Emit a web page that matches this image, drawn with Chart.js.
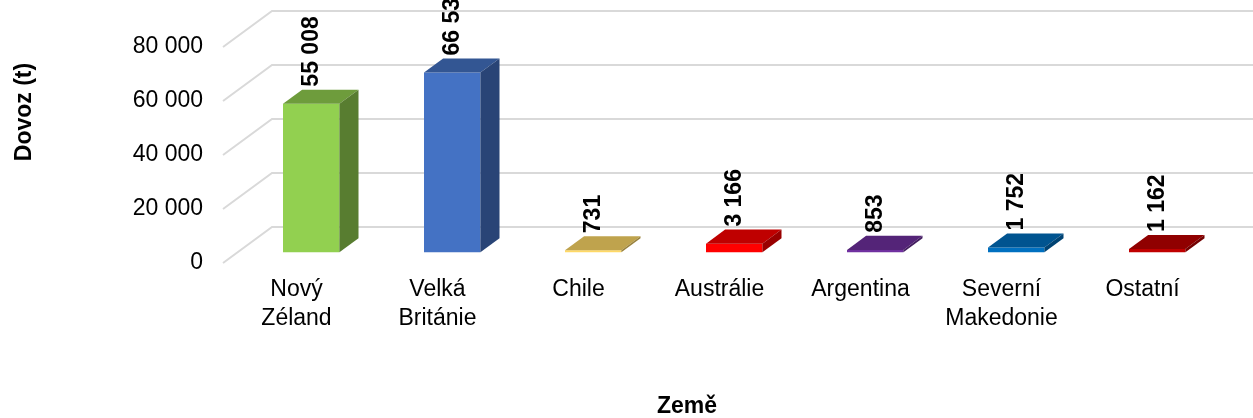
<!DOCTYPE html>
<html><head><meta charset="utf-8">
<script src="https://cdn.jsdelivr.net/npm/chart.js@4"></script>
<style>html,body{margin:0;padding:0;background:#fff}</style>
</head><body>
<canvas id="c" width="1253" height="418"></canvas>
<script>
const categories = [['Nový','Zéland'],['Velká','Británie'],'Chile','Austrálie','Argentina',['Severní','Makedonie'],'Ostatní'];
const importValues = [55008, 66533, 731, 3166, 853, 1752, 1162];
const barColors = ['#92D050','#4472C4','#FFD966','#FF0000','#7030A0','#0070C0','#C00000'];
const yTickValues = [0, 20000, 40000, 60000, 80000];
const yTitle = 'Dovoz (t)';
const xTitle = 'Země';

const FONT = '"Liberation Sans", Arial, Helvetica, sans-serif';
const WALL_DX = 49, WALL_DY = -36;      // depth of the 3D floor
const BAR_FRONT = 0.3, BAR_DEPTH = 0.39; // bar position / depth as share of floor depth
const GRID_COLOR = '#D9D9D9';
const Y_TITLE_CENTER = 112, X_TITLE_CENTER = 687;

function fmt(v){ return String(Math.round(v)).replace(/\B(?=(\d{3})+(?!\d))/g,' '); }
function shade(hex,f){
  const n = parseInt(hex.slice(1),16);
  return 'rgb(' + Math.round(((n>>16)&255)*f) + ',' + Math.round(((n>>8)&255)*f) + ',' + Math.round((n&255)*f) + ')';
}

const plugin3d = {
  id: 'bars3d',
  afterLayout(chart){
    const ys = chart.scales.y, xs = chart.scales.x;
    const h = ys.bottom - ys.top;
    ys.top = Y_TITLE_CENTER - h/2; ys.bottom = Y_TITLE_CENTER + h/2;
    const w = X_TITLE_CENTER - xs.left;
    xs.right = xs.left + 2*w;
  },
  beforeDatasetsDraw(chart){
    const {ctx, chartArea} = chart;
    const ys = chart.scales.y;
    ctx.save();
    ctx.strokeStyle = GRID_COLOR;
    ctx.lineWidth = 2;
    const x0 = chartArea.left - 3;
    ys.ticks.forEach(t => {
      const py = ys.getPixelForValue(t.value);
      ctx.beginPath();
      ctx.moveTo(x0, py);
      ctx.lineTo(x0 + WALL_DX, py + WALL_DY);
      ctx.lineTo(chart.width, py + WALL_DY);
      ctx.stroke();
    });
    ctx.restore();
    ctx.save();
    ctx.translate(WALL_DX*BAR_FRONT, WALL_DY*BAR_FRONT);
  },
  afterDatasetsDraw(chart){
    const {ctx} = chart;
    const meta = chart.getDatasetMeta(0);
    const data = chart.data.datasets[0].data;
    const ddx = WALL_DX*BAR_DEPTH, ddy = WALL_DY*BAR_DEPTH;
    meta.data.forEach((bar, i) => {
      const {x, y, base, width} = bar.getProps(['x','y','base','width'], true);
      const l = x - width/2, r = x + width/2;
      const c = barColors[i];
      ctx.fillStyle = shade(c, 0.75);
      ctx.beginPath();
      ctx.moveTo(l, y); ctx.lineTo(r, y); ctx.lineTo(r+ddx, y+ddy); ctx.lineTo(l+ddx, y+ddy);
      ctx.closePath(); ctx.fill();
      ctx.fillStyle = shade(c, 0.6);
      ctx.beginPath();
      ctx.moveTo(r, y); ctx.lineTo(r+ddx, y+ddy); ctx.lineTo(r+ddx, base+ddy); ctx.lineTo(r, base);
      ctx.closePath(); ctx.fill();
      ctx.save();
      ctx.translate(x, y + ddy - 3);
      ctx.rotate(-Math.PI/2);
      ctx.font = 'bold 23px ' + FONT;
      ctx.fillStyle = '#000';
      ctx.textAlign = 'left';
      ctx.textBaseline = 'middle';
      ctx.fillText(fmt(data[i]), 0, 0);
      ctx.restore();
    });
    ctx.restore();
  }
};

new Chart(document.getElementById('c'), {
  type: 'bar',
  data: {
    labels: categories,
    datasets: [{
      data: importValues,
      backgroundColor: barColors,
      borderWidth: 0,
      barPercentage: 0.4,
      categoryPercentage: 1,
      clip: false
    }]
  },
  options: {
    responsive: false,
    animation: false,
    layout: { padding: { top: 47, right: 40, bottom: 0, left: 0 } },
    plugins: { legend: { display: false }, tooltip: { enabled: false } },
    scales: {
      x: {
        grid: { display: false, drawTicks: false },
        border: { display: false },
        ticks: { color: '#000', font: { family: FONT, size: 23, lineHeight: 1.26 }, padding: 12, maxRotation: 0, autoSkip: false },
        title: { display: true, text: xTitle, color: '#000', font: { family: FONT, size: 23, weight: 'bold', lineHeight: 1 }, padding: { top: 0, bottom: 0 } },
        afterFit: s => { s.height = 155; }
      },
      y: {
        min: 0, max: 80000,
        grid: { display: false, drawTicks: false },
        border: { display: false },
        ticks: { color: '#000', font: { family: FONT, size: 23 }, padding: 23, callback: v => fmt(v) },
        afterBuildTicks: s => { s.ticks = yTickValues.map(v => ({ value: v })); },
        title: { display: true, text: yTitle, color: '#000', font: { family: FONT, size: 23, weight: 'bold', lineHeight: 1 }, padding: { top: 13.5, bottom: 0 } },
        afterFit: s => { s.width = 226; }
      }
    }
  },
  plugins: [plugin3d]
});
</script>
</body></html>
